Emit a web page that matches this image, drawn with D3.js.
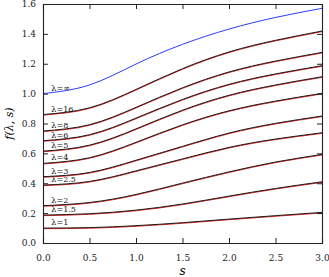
<!DOCTYPE html>
<html lang="en">
<head>
<meta charset="UTF-8">
<title></title>
<script src="https://d3js.org/d3.v7.min.js"></script>
<style>
body { margin: 0; background: #fff; }
</style>
</head>
<body>
<script>

var w = 329;
var h = 277;
var margin = {top: 4, right: 7, bottom: 34, left: 43};

var sValues = [0, 0.5, 1, 1.5, 2, 2.5, 3];

var lambdaLabels = ["1", "1.5", "2", "2.5", "3", "4", "5", "6", "8", "16", "\u221e"];

var f1    = [0.100, 0.103, 0.116, 0.136, 0.160, 0.183, 0.205];
var f1_5  = [0.187, 0.196, 0.220, 0.261, 0.314, 0.365, 0.410];
var f2    = [0.250, 0.271, 0.325, 0.401, 0.476, 0.542, 0.593];
var f2_5  = [0.388, 0.412, 0.483, 0.563, 0.640, 0.696, 0.738];
var f3    = [0.444, 0.472, 0.554, 0.647, 0.736, 0.801, 0.850];
var f4    = [0.533, 0.571, 0.674, 0.791, 0.885, 0.950, 1.002];
var f5    = [0.615, 0.655, 0.764, 0.889, 0.989, 1.058, 1.113];
var f6    = [0.685, 0.725, 0.836, 0.961, 1.062, 1.132, 1.187];
var f8    = [0.750, 0.792, 0.908, 1.039, 1.145, 1.218, 1.276];
var f16   = [0.860, 0.905, 1.028, 1.167, 1.279, 1.357, 1.419];
var fInf  = [1.000, 1.058, 1.198, 1.330, 1.432, 1.510, 1.571];

var curves = [f1, f1_5, f2, f2_5, f3, f4, f5, f6, f8, f16, fInf];

var xTicks = [0, 0.5, 1, 1.5, 2, 2.5, 3];
var yTicks = [0, 0.2, 0.4, 0.6, 0.8, 1.0, 1.2, 1.4, 1.6];

var font = "DejaVu Serif, Liberation Serif, serif";

var svg = d3.select("body")
    .append("svg")
    .attr("width", w)
    .attr("height", h);

var x = d3.scaleLinear().domain([0, 3]).range([margin.left, w - margin.right]);
var y = d3.scaleLinear().domain([0, 1.6]).range([h - margin.bottom, margin.top]);

var line = d3.line()
    .x(function(d, i) { return x(sValues[i]); })
    .y(function(d) { return y(d); })
    .curve(d3.curveNatural);

// red reference curves sit just under the black ones
svg.selectAll("path.red")
    .data(curves.slice(0, 10))
    .enter()
    .append("path")
    .attr("class", "red")
    .attr("d", line)
    .attr("transform", "translate(0,0.6)")
    .attr("fill", "none")
    .attr("stroke", "#ee2222")
    .attr("stroke-width", 1.0);

svg.selectAll("path.main")
    .data(curves)
    .enter()
    .append("path")
    .attr("class", "main")
    .attr("d", line)
    .attr("fill", "none")
    .attr("stroke", function(d, i) { return i == curves.length - 1 ? "#2a3cff" : "#1a1a1a"; })
    .attr("stroke-width", 1.0);

svg.selectAll("text.lab")
    .data(curves)
    .enter()
    .append("text")
    .attr("class", "lab")
    .attr("x", x(0.09))
    .attr("y", function(d) { return y(d[0]) - 3; })
    .attr("font-family", font)
    .attr("font-size", "8px")
    .attr("fill", "#111")
    .text(function(d, i) { return "\u03bb=" + lambdaLabels[i]; });

// axes, ticks pointing inwards on all four sides
var fmt = d3.format(".1f");

var axBottom = svg.append("g")
    .attr("transform", "translate(0," + (h - margin.bottom) + ")")
    .call(d3.axisBottom(x).tickValues(xTicks).tickSize(-5).tickPadding(12).tickFormat(fmt));

var axLeft = svg.append("g")
    .attr("transform", "translate(" + margin.left + ",0)")
    .call(d3.axisLeft(y).tickValues(yTicks).tickSize(-5).tickPadding(7).tickFormat(fmt));

var axTop = svg.append("g")
    .attr("transform", "translate(0," + margin.top + ")")
    .call(d3.axisTop(x).tickValues(xTicks).tickSize(-5).tickFormat(""));

var axRight = svg.append("g")
    .attr("transform", "translate(" + (w - margin.right) + ",0)")
    .call(d3.axisRight(y).tickValues(yTicks).tickSize(-5).tickFormat(""));

[axBottom, axLeft, axTop, axRight].forEach(function(g) {
    g.selectAll("path.domain").attr("stroke", "#222").attr("stroke-width", 1.1);
    g.selectAll("line").attr("stroke", "#222");
    g.selectAll("text")
        .attr("font-family", font)
        .attr("font-size", "9px")
        .attr("fill", "#222");
});

svg.append("text")
    .attr("x", (x(0) + x(3)) / 2)
    .attr("y", h - 2)
    .attr("text-anchor", "middle")
    .attr("font-family", font)
    .attr("font-style", "italic")
    .attr("font-size", "12px")
    .text("s");

svg.append("text")
    .attr("transform", "translate(13," + y(0.8) + ") rotate(-90)")
    .attr("text-anchor", "middle")
    .attr("font-family", font)
    .attr("font-style", "italic")
    .attr("font-size", "11px")
    .text("f(\u03bb, s)");

</script>
</body>
</html>
